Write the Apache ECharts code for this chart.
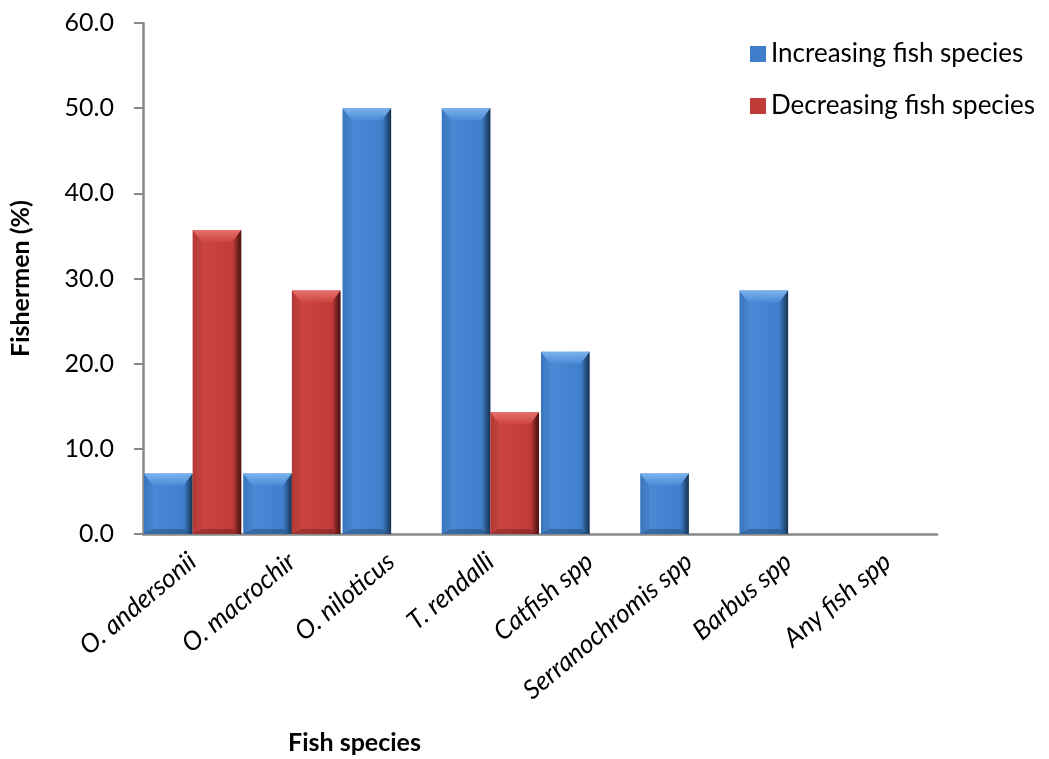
<!DOCTYPE html>
<html>
<head>
<meta charset="utf-8">
<script src="https://cdn.jsdelivr.net/npm/echarts@6/dist/echarts.min.js"></script>
<style>
  html, body { margin: 0; padding: 0; background: #ffffff; }
  #chart { width: 1049px; height: 759px; }
</style>
</head>
<body>
<div id="chart"></div>
<script>
// Fish species whose catches fishermen report as increasing / decreasing
const categories = ['O. andersonii', 'O. macrochir', 'O. niloticus', 'T. rendalli',
  'Catfish spp', 'Serranochromis spp', 'Barbus spp', 'Any fish spp'];
const increasing = [7.1, 7.1, 50.0, 50.0, 21.4, 7.1, 28.6, 0];
const decreasing = [35.7, 28.6, 0, 14.3, 0, 0, 0, 0];
const seriesNames = ['Increasing fish species', 'Decreasing fish species'];
const yTicks = { min: 0, max: 60, interval: 10 };

const FONT = 'Lato, "Open Sans", sans-serif';
const FS = 25;
const FS_L = 26;

const palettes = [
  { base: '#3e7ecb', light: '#7ab3ee', mid: '#4a8ad6', dark: '#23507f' },
  { base: '#c13b39', light: '#e8726d', mid: '#cc4541', dark: '#6e1a19' }
];

// Bevelled bar: drawn through the category/value scales, left or right half of the band
function bevelBar(slot) {
  const p = palettes[slot];
  return function (params, api) {
    const cat = api.value(0);
    const v = api.value(1);
    if (!v) return null;
    const band = api.size([1, 0])[0];
    const w = band * 0.98 / 2;
    const c = api.coord([cat, 0]);
    const topPt = api.coord([cat, v]);
    const x0 = c[0] - w + slot * w;
    const x1 = x0 + w;
    const y0 = topPt[1];
    const y1 = c[1];
    const h = y1 - y0;
    const t = Math.min(12, h * 0.35);
    const s = Math.min(9, w * 0.2);
    const b = Math.min(5, h * 0.2);
    return {
      type: 'group',
      children: [
        {
          type: 'rect',
          shape: { x: x0, y: y0, width: w, height: h },
          style: {
            fill: new echarts.graphic.LinearGradient(0, 0, 1, 0, [
              { offset: 0, color: p.base },
              { offset: 0.15, color: p.mid },
              { offset: 0.85, color: p.base },
              { offset: 1, color: p.dark }
            ])
          }
        },
        {
          type: 'polygon',
          shape: { points: [[x0, y0], [x1, y0], [x1 - s, y0 + t], [x0 + s, y0 + t]] },
          style: {
            fill: new echarts.graphic.LinearGradient(0, 0, 0, 1, [
              { offset: 0, color: p.light },
              { offset: 1, color: p.mid }
            ])
          }
        },
        {
          type: 'polygon',
          shape: { points: [[x1, y0], [x1, y1], [x1 - s, y1 - b], [x1 - s, y0 + t]] },
          style: {
            fill: new echarts.graphic.LinearGradient(0, 0, 1, 0, [
              { offset: 0, color: 'rgba(0,0,0,0.02)' },
              { offset: 1, color: 'rgba(0,0,0,0.35)' }
            ])
          }
        },
        {
          type: 'polygon',
          shape: { points: [[x0, y0], [x0 + s, y0 + t], [x0 + s, y1 - b], [x0, y1]] },
          style: { fill: 'rgba(0,0,0,0.06)' }
        },
        {
          type: 'polygon',
          shape: { points: [[x0, y1], [x1, y1], [x1 - s, y1 - b], [x0 + s, y1 - b]] },
          style: { fill: 'rgba(0,0,0,0.22)' }
        }
      ]
    };
  };
}

function toPairs(arr) { return arr.map((v, i) => [i, v]); }

const chart = echarts.init(document.getElementById('chart'), null, { renderer: 'canvas' });
chart.setOption({
  backgroundColor: '#ffffff',
  animation: false,
  textStyle: { fontFamily: FONT },
  grid: { left: 141, right: 112, top: 23, bottom: 225, containLabel: false },
  legend: {
    orient: 'vertical',
    left: 745,
    top: 36,
    itemWidth: 16,
    itemHeight: 16,
    itemGap: 26,
    icon: 'rect',
    textStyle: { fontFamily: FONT, fontSize: FS_L, color: '#000' },
    data: seriesNames
  },
  xAxis: {
    type: 'category',
    data: categories,
    axisLine: { show: true, lineStyle: { color: '#888888', width: 2.5 } },
    axisTick: { show: false },
    axisLabel: {
      rotate: 40,
      interval: 0,
      margin: 24,
      fontFamily: FONT,
      fontStyle: 'italic',
      fontSize: FS_L,
      color: '#000'
    },
    splitLine: { show: false }
  },
  yAxis: {
    type: 'value',
    min: yTicks.min,
    max: yTicks.max,
    interval: yTicks.interval,
    name: 'Fishermen (%)',
    nameLocation: 'middle',
    nameGap: 110,
    nameTextStyle: { fontFamily: FONT, fontWeight: 'bold', fontSize: FS, color: '#000' },
    axisLine: { show: true, lineStyle: { color: '#888888', width: 2.5 } },
    axisTick: { show: true, inside: false, length: 9, lineStyle: { color: '#888888', width: 2 } },
    axisLabel: {
      margin: 29,
      fontFamily: FONT,
      fontSize: FS,
      color: '#000',
      formatter: v => v.toFixed(1)
    },
    splitLine: { show: false }
  },
  graphic: [{
    type: 'text',
    left: 288,
    top: 730,
    style: {
      text: 'Fish species',
      font: 'bold ' + FS + 'px ' + FONT,
      fill: '#000'
    }
  }],
  series: [
    {
      name: seriesNames[0],
      type: 'custom',
      renderItem: bevelBar(0),
      itemStyle: { color: palettes[0].base },
      encode: { x: 0, y: 1 },
      data: toPairs(increasing),
      z: 2
    },
    {
      name: seriesNames[1],
      type: 'custom',
      renderItem: bevelBar(1),
      itemStyle: { color: palettes[1].base },
      encode: { x: 0, y: 1 },
      data: toPairs(decreasing),
      z: 2
    }
  ]
});
</script>
</body>
</html>
